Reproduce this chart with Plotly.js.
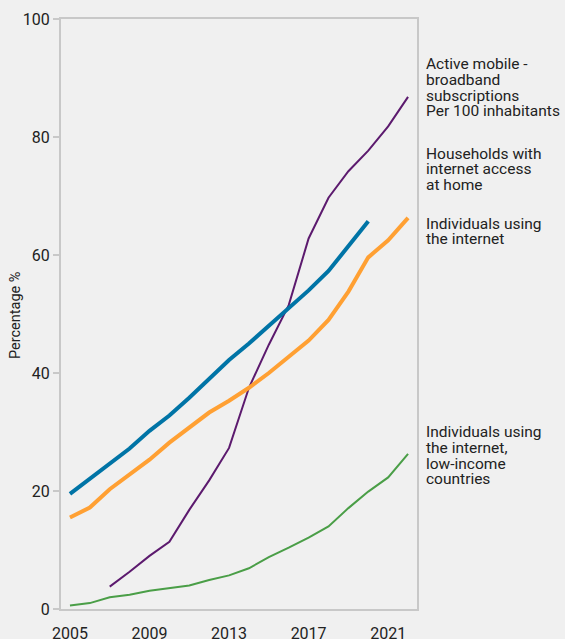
<!DOCTYPE html>
<html><head><meta charset="utf-8">
<script src="https://cdn.plot.ly/plotly-3.0.1.min.js"></script>
<style>html,body{margin:0;padding:0;background:#f0f0f0;}#chart{width:565px;height:639px;}</style>
</head><body><div id="chart"></div>
<script>
const years = [2005,2006,2007,2008,2009,2010,2011,2012,2013,2014,2015,2016,2017,2018,2019,2020,2021,2022];
const householdsYears = years.slice(0,16);
const households = [19.5,22.0,24.5,27.2,30.2,32.8,35.8,39.0,42.2,45.0,48.0,51.0,54.0,57.3,61.5,65.7];
const individuals = [15.5,17.2,20.3,22.8,25.3,28.2,30.8,33.3,35.3,37.5,40.0,42.8,45.5,49.0,53.8,59.6,62.5,66.3];
const mobileYears = years.slice(2);
const mobile = [3.8,6.3,9.0,11.4,16.8,21.8,27.3,37.5,44.8,51.5,62.8,69.7,74.2,77.7,81.8,86.8];
const lowIncome = [0.6,1.0,2.0,2.4,3.1,3.5,4.0,4.9,5.7,6.9,8.8,10.4,12.1,14.0,17.1,19.9,22.3,26.3];
const labelLines = [
  ["Active mobile -","broadband","subscriptions","Per 100 inhabitants"],
  ["Households with","internet access","at home"],
  ["Individuals using","the internet"],
  ["Individuals using","the internet,","low-income","countries"]
];
const tickYears = [2005,2009,2013,2017,2021];
const yTicks = [0,20,40,60,80,100];
const yTitle = "Percentage %";

// layout: pixel positions of label line centres
const W = 565, H = 639, L = 61, R = 148, T = 19, B = 30;
const plotW = W - L - R, plotH = H - T - B;
const blockTops = [64, 153.5, 223.5, 432];
const linePitch = 15.8;
const annotations = [];
labelLines.forEach((lines, b) => {
  lines.forEach((txt, i) => {
    const py = blockTops[b] + i * linePitch;
    annotations.push({text:txt, xref:'paper', yref:'paper', x:(424 - L) / plotW, y:(H - B - py) / plotH,
      xanchor:'left', yanchor:'middle', align:'left', showarrow:false,
      font:{size:15.5, color:'#222', family:'Roboto, sans-serif'}});
  });
});
annotations.push({text:yTitle, xref:'paper', yref:'paper', x:(15 - L) / plotW, y:(H - B - 315) / plotH,
  xanchor:'center', yanchor:'middle', textangle:-90, showarrow:false,
  font:{size:14.5, color:'#222', family:'Roboto, sans-serif'}});

const traces = [
  {x:mobileYears, y:mobile, mode:'lines', line:{color:'#5c1a6e', width:2}},
  {x:years, y:lowIncome, mode:'lines', line:{color:'#4a9e47', width:2}},
  {x:years, y:individuals, mode:'lines', line:{color:'#ffa033', width:4}},
  {x:householdsYears, y:households, mode:'lines', line:{color:'#0074a6', width:4}}
];
const layout = {
  width:W, height:H,
  paper_bgcolor:'#f0f0f0', plot_bgcolor:'#f0f0f0',
  margin:{l:L, r:R, t:T, b:B},
  showlegend:false,
  font:{family:'Roboto, sans-serif', color:'#222', size:15},
  xaxis:{range:[2004.55,2022.45], tickvals:tickYears, ticktext:tickYears.map(String), showgrid:false, zeroline:false,
    showline:true, mirror:true, linecolor:'#c8c8c8', linewidth:2, ticks:'', ticklabelstandoff:9, tickfont:{size:16, color:'#222'}},
  yaxis:{range:[0,100], tickvals:yTicks, showgrid:false, zeroline:false,
    showline:true, mirror:true, linecolor:'#c8c8c8', linewidth:2, ticks:'outside', ticklen:6, tickcolor:'#c8c8c8', tickwidth:2,
    tickfont:{size:16, color:'#222'}},
  annotations: annotations
};
Plotly.newPlot('chart', traces, layout, {displayModeBar:false, staticPlot:true});
</script></body></html>
